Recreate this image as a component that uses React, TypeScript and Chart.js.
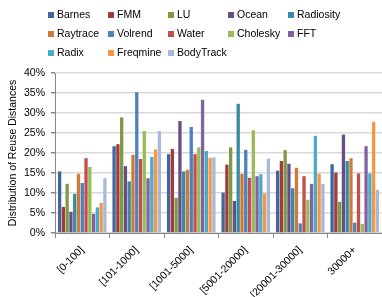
import React, { useEffect, useRef } from "react";
import { Chart, registerables } from "chart.js";
Chart.register(...registerables);

const categories = ["[0-100]", "[101-1000]", "[1001-5000]", "[5001-20000]", "[20001-30000]", "30000+"];
const seriesNames = ["Barnes", "FMM", "LU", "Ocean", "Radiosity", "Raytrace", "Volrend", "Water", "Cholesky", "FFT", "Radix", "Freqmine", "BodyTrack"];
const barnes = [15.4, 21.7, 19.7, 10.1, 15.6, 17.2];
const fmm = [6.5, 22.2, 21.0, 17.1, 18.0, 15.1];
const lu = [12.3, 28.9, 8.8, 21.4, 20.7, 7.8];
const ocean = [5.3, 16.7, 28.0, 8.0, 17.3, 24.6];
const radiosity = [9.8, 12.9, 15.4, 32.3, 11.2, 18.0];
const raytrace = [14.8, 19.5, 15.8, 14.8, 16.3, 18.7];
const volrend = [12.5, 35.2, 26.5, 20.8, 2.4, 2.6];
const water = [18.7, 18.5, 19.7, 13.8, 14.2, 14.9];
const cholesky = [16.5, 25.5, 21.4, 25.7, 8.3, 2.3];
const fft = [4.8, 13.7, 33.3, 14.2, 12.3, 21.7];
const radix = [6.4, 19.0, 20.5, 14.7, 24.3, 14.9];
const freqmine = [7.5, 20.9, 18.8, 9.9, 14.8, 27.8];
const bodytrack = [13.7, 25.5, 18.9, 18.6, 12.3, 10.8];
const yTicks = [0, 5, 10, 15, 20, 25, 30, 35, 40];

const seriesValues = [barnes, fmm, lu, ocean, radiosity, raytrace, volrend, water, cholesky, fft, radix, freqmine, bodytrack];
const colors = ["#40669C", "#9E3D3A", "#7F9A46", "#654F86", "#388BA4", "#CF7B37", "#4F81BD", "#C0504D", "#9BBB59", "#8064A2", "#4BACC6", "#F79646", "#A7B9DB"];

const FONT = '"Liberation Sans", Arial, sans-serif';

const gridLegend = {
  id: "gridLegend",
  afterDraw(chart: any) {
    const ctx = chart.ctx;
    ctx.save();
    ctx.font = `10.5px ${FONT}`;
    ctx.textBaseline = "middle";
    ctx.textAlign = "left";
    const left = chart.chartArea.left - 7;
    chart.data.datasets.forEach((ds: any, i: number) => {
      const col = i % 5;
      const row = Math.floor(i / 5);
      const x = left + col * 60;
      const y = 15 + row * 19;
      ctx.fillStyle = ds.backgroundColor;
      ctx.fillRect(x, y - 3, 6, 6);
      ctx.fillStyle = "#000";
      ctx.fillText(ds.label, x + 9, y + 0.5);
    });
    ctx.restore();
  },
};

export default function App() {
  const ref = useRef<HTMLCanvasElement>(null);
  useEffect(() => {
    if (!ref.current) return;
    const H = 305;
    const chart = new Chart(ref.current, {
      type: "bar",
      data: {
        labels: categories,
        datasets: seriesNames.map((name, i) => ({
          label: name,
          data: seriesValues[i],
          backgroundColor: colors[i],
          borderWidth: 0,
          categoryPercentage: 0.9,
          barPercentage: 0.88,
        })),
      },
      options: {
        animation: false,
        responsive: false,
        maintainAspectRatio: false,
        layout: { padding: { top: 73, right: 0, left: 0, bottom: 0 } },
        plugins: { legend: { display: false }, tooltip: { enabled: false } },
        scales: {
          x: {
            afterFit: (s: any) => { s.height = H - 233; },
            grid: { offset: true, drawOnChartArea: false, drawTicks: true, tickLength: 5, color: "#868686" },
            border: { color: "#868686", width: 1 },
            ticks: { minRotation: 45, maxRotation: 45, autoSkip: false, padding: 6, color: "#000", font: { family: FONT, size: 10.5 } },
          },
          y: {
            min: 0,
            max: 40,
            afterFit: (s: any) => { s.width = 55; },
            afterBuildTicks: (s: any) => { s.ticks = yTicks.map((v) => ({ value: v })); },
            grid: { color: "#d9d9d9", lineWidth: 1.5, drawTicks: true, tickLength: 4, tickColor: "#868686" },
            border: { color: "#868686", width: 1 },
            ticks: { padding: 6, color: "#000", font: { family: FONT, size: 10.5 }, callback: (v: any) => v + "%" },
            title: { display: true, text: "Distribution of Reuse Distances", color: "#000", font: { family: FONT, size: 10.5 }, padding: { top: 7, bottom: 0 } },
          },
        },
      },
      plugins: [gridLegend],
    } as any);
    return () => chart.destroy();
  }, []);
  return (
    <div style={{ position: "fixed", left: 0, top: 0, width: 382, height: 305, background: "#fff" }}>
      <canvas ref={ref} width={382} height={305} style={{ width: 382, height: 305, display: "block" }} />
    </div>
  );
}
